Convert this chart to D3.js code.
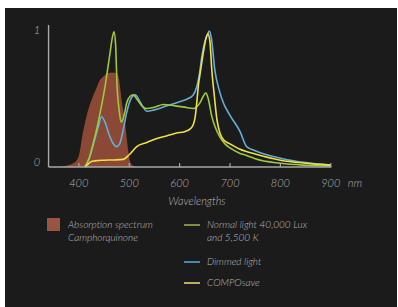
<!DOCTYPE html>
<html><head><meta charset="utf-8">
<script src="https://cdn.jsdelivr.net/npm/d3@7/dist/d3.min.js"></script>
<style>
html,body{margin:0;padding:0;background:#fff;}
svg{display:block;}
text{font-family:Lato,"Open Sans",sans-serif;font-style:italic;font-weight:300;}
</style></head>
<body>
<svg id="c" width="398" height="307"></svg>
<script>
// ---- data (wavelength nm, relative value) ----
const absorptionWl  = [360,370,380,390,396,400,408,415,425,435,442,450,456,466,476,480,485,490,494,498,503,510,515];
const absorptionVal = [0,0.005,0.015,0.03,0.05,0.08,0.25,0.37,0.49,0.58,0.64,0.67,0.69,0.695,0.69,0.64,0.49,0.37,0.25,0.12,0.03,0.005,0];

const normalWl  = [412,420,429,435,445,452,462,467,470,473,476,480,484,490,495,502,508,515,525,535,550,568,590,610,627,640,647,652,657,664,670,680,690,700,720,733,750,800,850,900];
const normalVal = [0,0.06,0.18,0.27,0.45,0.59,0.84,0.96,0.995,0.9,0.59,0.42,0.33,0.38,0.47,0.52,0.53,0.5,0.45,0.43,0.44,0.46,0.45,0.44,0.43,0.47,0.52,0.545,0.5,0.37,0.3,0.22,0.17,0.14,0.1,0.085,0.06,0.027,0.013,0.007];

const dimmedWl  = [412,417,422,430,439,445,452,459,467,475,481,488,495,502,508,512,520,535,550,575,600,615,627,634,640,644,650,656,659,663,670,679,687,700,720,733,750,800,850,900];
const dimmedVal = [0,0.03,0.076,0.18,0.3,0.37,0.33,0.25,0.18,0.15,0.17,0.27,0.4,0.49,0.525,0.53,0.49,0.41,0.42,0.45,0.48,0.5,0.53,0.59,0.7,0.81,0.92,0.98,1.0,0.95,0.71,0.56,0.47,0.38,0.26,0.15,0.12,0.065,0.032,0.015];

const compoWl  = [412,418,425,432,450,470,488,500,515,535,555,575,594,610,621,627,631,634,637,642,647,652,656,660,664,669,674,680,687,700,720,750,800,850,900];
const compoVal = [0,0.02,0.04,0.045,0.05,0.052,0.056,0.09,0.15,0.18,0.21,0.23,0.25,0.26,0.28,0.31,0.37,0.47,0.59,0.72,0.84,0.94,0.98,0.93,0.71,0.52,0.35,0.25,0.2,0.17,0.13,0.095,0.05,0.028,0.014];

const xTicks = [400,500,600,700,800,900];
const yTicks = [0,1];
const legendLabels = [["Absorption spectrum","Camphorquinone"],["Normal light 40,000 Lux","and 5,500 K"],["Dimmed light"],["COMPOsave"]];

// ---- layout ----
const svg = d3.select("#c");
svg.append("rect").attr("x",5).attr("y",8).attr("width",392).attr("height",299).attr("fill","#1b1b1b");

const x = d3.scaleLinear().domain([400,900]).range([78.8,330.8]);
const y = d3.scaleLinear().domain([0,1]).range([167,31]);
const x0 = x(340);

const zip = (a,b)=>a.map((w,i)=>[w,b[i]]);
const area = d3.area().x(d=>x(d[0])).y0(y(0)).y1(d=>y(d[1])).curve(d3.curveMonotoneX);
const line = d3.line().x(d=>x(d[0])).y(d=>y(d[1])).curve(d3.curveMonotoneX);

svg.append("path").datum(zip(absorptionWl,absorptionVal)).attr("d",area).attr("fill","#8a4835");

const series = [
  {wl:dimmedWl, v:dimmedVal, c:"#66aed6"},
  {wl:normalWl, v:normalVal, c:"#9fc83d"},
  {wl:compoWl, v:compoVal, c:"#f0e048"}
];
series.forEach(s=>{
  svg.append("path").datum(zip(s.wl,s.v)).attr("d",line).attr("fill","none")
    .attr("stroke",s.c).attr("stroke-width",1.6);
});

// axes
const axisCol = "#a8a8a8";
svg.append("line").attr("x1",x0).attr("x2",x0).attr("y1",25).attr("y2",y(0)).attr("stroke",axisCol).attr("stroke-width",1.4);
svg.append("line").attr("x1",x0).attr("x2",x(900)+0.7).attr("y1",y(0)).attr("y2",y(0)).attr("stroke",axisCol).attr("stroke-width",1.6);
svg.selectAll(".tk").data(xTicks).enter().append("line")
  .attr("x1",d=>x(d)).attr("x2",d=>x(d)).attr("y1",y(0)).attr("y2",y(0)-4)
  .attr("stroke",axisCol).attr("stroke-width",1.2);
svg.selectAll(".tl").data(xTicks).enter().append("text")
  .attr("x",d=>x(d)).attr("y",187).attr("text-anchor","middle")
  .attr("font-size",11).attr("fill","#b4b4b4").text(d=>d);
svg.append("text").attr("x",x(900)+17).attr("y",187).attr("text-anchor","start")
  .attr("font-size",11).attr("fill","#b4b4b4").text("nm");
svg.selectAll(".yl").data(yTicks).enter().append("text")
  .attr("x",37).attr("y",d=>d===0?166:34).attr("text-anchor","middle")
  .attr("font-size",11).attr("fill","#b4b4b4").text(d=>d);
svg.append("text").attr("x",197).attr("y",205).attr("text-anchor","middle")
  .attr("font-size",11).attr("fill","#b4b4b4").text("Wavelengths");

// legend
const lg = svg.append("g").attr("font-size",10).attr("fill","#bcbcbc");
lg.append("rect").attr("x",47).attr("y",218).attr("width",13).attr("height",13).attr("fill","#9a5442");
legendLabels[0].forEach((t,i)=>lg.append("text").attr("x",68).attr("y",228+i*13).text(t));
const lineItems = [
  {c:"#93b23c", ly:225, ty:228, lab:legendLabels[1]},
  {c:"#4fa7d8", ly:262, ty:265, lab:legendLabels[2]},
  {c:"#e8d36a", ly:283, ty:286, lab:legendLabels[3]}
];
lineItems.forEach(it=>{
  lg.append("line").attr("x1",184).attr("x2",200).attr("y1",it.ly).attr("y2",it.ly).attr("stroke",it.c).attr("stroke-width",1.6);
  it.lab.forEach((t,i)=>lg.append("text").attr("x",207).attr("y",it.ty+i*13).text(t));
});
</script>
</body></html>
